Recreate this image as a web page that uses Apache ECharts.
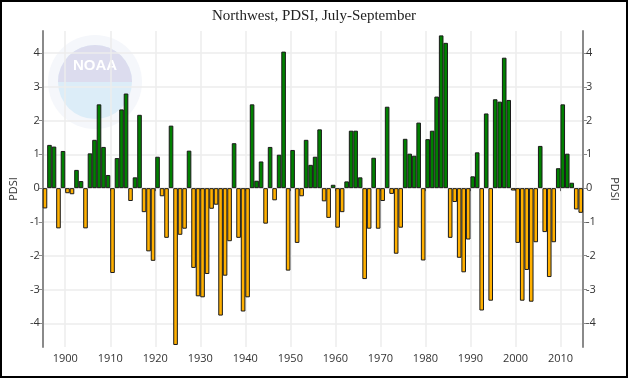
<!DOCTYPE html>
<html>
<head>
<meta charset="utf-8">
<script src="https://cdn.jsdelivr.net/npm/echarts@6/dist/echarts.min.js"></script>
<style>
html,body{margin:0;padding:0;background:#fff;}
#chart{width:628px;height:378px;}
</style>
</head>
<body>
<div id="chart"></div>
<script>
// ---- data ----
const years = [
 1895,1896,1897,1898,1899,1900,1901,1902,1903,1904,1905,1906,1907,1908,1909,
 1910,1911,1912,1913,1914,1915,1916,1917,1918,1919,1920,1921,1922,1923,1924,
 1925,1926,1927,1928,1929,1930,1931,1932,1933,1934,1935,1936,1937,1938,1939,
 1940,1941,1942,1943,1944,1945,1946,1947,1948,1949,1950,1951,1952,1953,1954,
 1955,1956,1957,1958,1959,1960,1961,1962,1963,1964,1965,1966,1967,1968,1969,
 1970,1971,1972,1973,1974,1975,1976,1977,1978,1979,1980,1981,1982,1983,1984,
 1985,1986,1987,1988,1989,1990,1991,1992,1993,1994,1995,1996,1997,1998,1999,
 2000,2001,2002,2003,2004,2005,2006,2007,2008,2009,2010,2011,2012,2013,2014
];
const pdsi = [
 -0.60, 1.28, 1.23,-1.19, 1.10,-0.15,-0.18, 0.54, 0.21,-1.19, 1.03, 1.43, 2.48, 1.22, 0.39,
 -2.51, 0.89, 2.33, 2.80,-0.38, 0.32, 2.17,-0.71,-1.87,-2.15, 0.93,-0.24,-1.47, 1.85,-4.64,
 -1.38,-1.20, 1.11,-2.36,-3.20,-3.23,-2.54,-0.61,-0.49,-3.77,-2.59,-1.57, 1.33,-1.47,-3.65,
 -3.23, 2.48, 0.22, 0.79,-1.05, 1.22,-0.36, 0.99, 4.04,-2.44, 1.13,-1.62,-0.24, 1.43, 0.69,
  0.93, 1.74,-0.39,-0.88, 0.10,-1.17,-0.71, 0.20, 1.70, 1.70, 0.32,-2.69,-1.20, 0.90,-1.20,
 -0.38, 2.41,-0.17,-1.94,-1.17, 1.46, 1.02, 0.96, 1.94,-2.14, 1.45, 1.70, 2.71, 4.52, 4.30,
 -1.47,-0.41,-2.06,-2.49,-1.52, 0.35, 1.06,-3.62, 2.21,-3.33, 2.63, 2.56, 3.86, 2.61,-0.07,
 -1.62,-3.33,-2.42,-3.36,-1.60, 1.25,-1.30,-2.63,-1.60, 0.59, 2.48, 1.02, 0.16,-0.63,-0.73
];
const xTicks = [1900,1910,1920,1930,1940,1950,1960,1970,1980,1990,2000,2010];
const yTicks = [-4,-3,-2,-1,0,1,2,3,4];
const titleText = 'Northwest, PDSI, July-September';
const axisName = 'PDSI';

// ---- styling ----
const posColor = '#008000';
const negColor = '#FFB000';
const axisGray = '#8a8a8a';
const gridGray = '#ececec';
const labelColor = '#333';
const labelFont = 'Open Sans';

const barData = years.map((y, i) => ({
  value: [y + 0.5, pdsi[i]],
  itemStyle: { color: pdsi[i] >= 0 ? posColor : negColor }
}));

const yCommon = {
  type: 'value', min: -4.7, max: 4.65,
  axisTick: { show: true, length: 4, customValues: yTicks, lineStyle: { color: axisGray } },
  axisLabel: { customValues: yTicks, margin: 3, color: labelColor, fontFamily: labelFont, fontSize: 11 },
  name: axisName, nameLocation: 'middle',
  nameTextStyle: { color: labelColor, fontFamily: labelFont, fontSize: 11 }
};

const chart = echarts.init(document.getElementById('chart'), null, { renderer: 'canvas' });
chart.setOption({
  animation: false,
  backgroundColor: '#fff',
  title: {
    text: titleText, left: 'center', top: 4,
    textStyle: { fontFamily: 'Liberation Serif', fontSize: 15, fontWeight: 'normal', color: '#222' }
  },
  grid: { left: 38, right: 39, top: 31, bottom: 31, containLabel: false },
  xAxis: {
    type: 'value', min: 1895, max: 2015,
    axisLine: { show: false, lineStyle: { color: axisGray } },
    axisTick: { show: true, length: 3, customValues: xTicks, lineStyle: { color: '#666' } },
    axisLabel: { customValues: xTicks, margin: 6, color: labelColor, fontFamily: labelFont, fontSize: 11, formatter: v => String(v) },
    splitLine: { show: true, lineStyle: { color: gridGray, width: 1.5 } }
  },
  yAxis: [
    Object.assign({}, yCommon, {
      position: 'left', nameGap: 23, nameRotate: 90,
      axisLine: { show: true, lineStyle: { color: axisGray, width: 2 } },
      splitLine: { show: true, lineStyle: { color: gridGray, width: 1.5 } }
    }),
    Object.assign({}, yCommon, {
      position: 'right', nameGap: 26, nameRotate: -90,
      axisLine: { show: true, lineStyle: { color: axisGray, width: 2 } },
      splitLine: { show: false }
    })
  ],
  graphic: [
    {
      type: 'group', left: 48, top: 35, z: -10, silent: true,
      children: [
        { type: 'circle', z: -10, shape: { cx: 47, cy: 47, r: 47 }, style: { fill: '#f5f7fb' } },
        { type: 'circle', z: -10, shape: { cx: 47, cy: 47, r: 37 }, style: { fill: '#dcedf8' } },
        { type: 'sector', z: -10, shape: { cx: 47, cy: 47, r: 37, r0: 0, startAngle: Math.PI, endAngle: Math.PI * 2 }, style: { fill: '#dcdcee' } },
        { type: 'text', z: -10, x: 47, y: 31, style: { text: 'NOAA', fill: '#ffffff', font: 'bold 15px sans-serif', align: 'center', verticalAlign: 'middle' } }
      ]
    },
    {
      type: 'rect', z: 100, silent: true,
      shape: { x: 1, y: 1, width: 626, height: 376 },
      style: { fill: null, stroke: '#000', lineWidth: 2 }
    }
  ],
  series: [{
    type: 'bar',
    xAxisIndex: 0, yAxisIndex: 0,
    barWidth: 4.6,
    data: barData,
    itemStyle: { borderColor: '#1a1a1a', borderWidth: 1 },
    z: 2
  }]
});
</script>
</body>
</html>
